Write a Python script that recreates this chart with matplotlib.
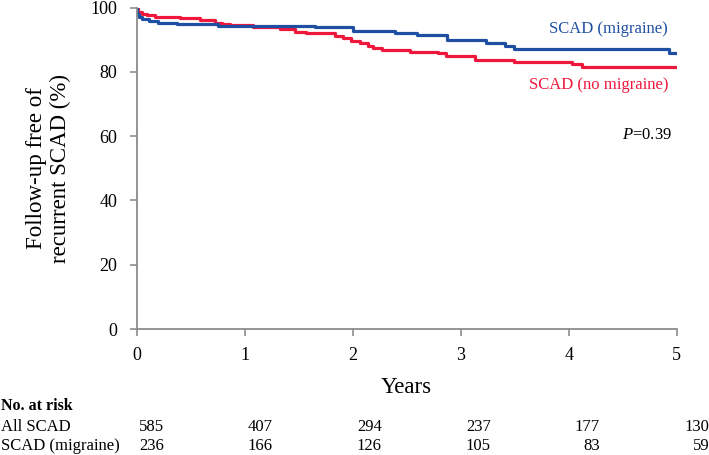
import numpy as np
import matplotlib
matplotlib.use("Agg")
import matplotlib.pyplot as plt

plt.rcParams['font.family'] = ['Liberation Serif', 'DejaVu Serif']
plt.rcParams['mathtext.fontset'] = 'custom'
plt.rcParams['mathtext.rm'] = 'Liberation Serif'
plt.rcParams['mathtext.it'] = 'Liberation Serif:italic'

# Kaplan-Meier steps (years, % free of recurrence)
mig_t = [0, 0.005, 0.02, 0.046, 0.11, 0.2, 0.37, 0.755, 1.65, 2.0, 2.39, 2.6,
         2.87, 3.23, 3.41, 3.49, 4.93, 5.0]
mig_s = [100, 98.0, 97.0, 96.5, 95.9, 95.3, 94.9, 94.4, 93.8, 92.8, 92.0, 91.3,
         89.9, 88.9, 88.0, 87.0, 85.7, 85.7]

nomig_t = [0, 0.015, 0.046, 0.093, 0.17, 0.4, 0.586, 0.725, 0.787, 0.864, 1.08,
           1.33, 1.47, 1.57, 1.84, 1.91, 1.98, 2.07, 2.14, 2.19, 2.27, 2.53, 2.79,
           2.86, 3.13, 3.49, 4.03, 4.12, 5.0]
nomig_s = [100, 98.7, 98.0, 97.7, 97.2, 96.6, 96.1, 95.3, 94.9, 94.5, 94.0,
           93.2, 92.5, 92.0, 91.1, 90.4, 89.7, 88.9, 88.0, 87.3, 86.8, 86.3, 85.7,
           84.8, 83.8, 83.0, 82.3, 81.6, 81.6]

risk_years = [0, 1, 2, 3, 4, 5]
risk_all = [585, 407, 294, 237, 177, 130]
risk_mig = [236, 166, 126, 105, 83, 59]

blue = '#1f4fa3'
red = '#f0173d'
gray = '#8c8c8c'

fig = plt.figure(figsize=(7.09, 4.55), dpi=100)
ax = fig.add_axes([0.1928, 0.2769, 0.7616, 0.7066])

ax.step(nomig_t, nomig_s, where='post', color=red, lw=2.3)
ax.step(mig_t, mig_s, where='post', color=blue, lw=2.3)

ax.set_xlim(0, 5)
ax.set_ylim(0, 100)
ax.set_xticks(range(6))
ax.set_yticks(range(0, 101, 20))
for s in ['top', 'right']:
    ax.spines[s].set_visible(False)
for s in ['left', 'bottom']:
    ax.spines[s].set_color(gray)
    ax.spines[s].set_linewidth(1.3)
ax.tick_params(axis='both', colors=gray, labelcolor='black', labelsize=13,
               length=5, width=1.2)
ax.tick_params(axis='y', pad=9)
ax.tick_params(axis='x', pad=8)

ax.set_xlabel('Years', fontsize=16.5, labelpad=9)
ax.set_ylabel('Follow-up free of\nrecurrent SCAD (%)', fontsize=16.5,
              labelpad=14, linespacing=1.15)

ax.text(4.92, 92.1, 'SCAD (migraine)', color=blue, fontsize=12,
        ha='right', va='baseline')
ax.text(4.92, 74.6, 'SCAD (no migraine)', color=red, fontsize=12,
        ha='right', va='baseline')
ax.text(4.955, 59.1, r'$P$=0.39', color='black', fontsize=12,
        ha='right', va='baseline')

# number at risk table under the axis
tr = matplotlib.transforms.blended_transform_factory(ax.transData, fig.transFigure)
fig.text(0.002, 1 - 406 / 455, 'No. at risk', fontsize=11.5, fontweight='bold',
         va='center', ha='left')
fig.text(0.002, 1 - 427 / 455, 'All SCAD', fontsize=12, va='center', ha='left')
fig.text(0.002, 1 - 446 / 455, 'SCAD (migraine)', fontsize=12, va='center', ha='left')
for yr, a, m in zip(risk_years, risk_all, risk_mig):
    xr = yr * 1.01 + 0.25
    ax.text(xr, 1 - 427 / 455, str(a), transform=tr, fontsize=12,
            ha='right', va='center', clip_on=False)
    ax.text(xr, 1 - 446 / 455, str(m), transform=tr, fontsize=12,
            ha='right', va='center', clip_on=False)

fig.savefig('out.png', dpi=100)
